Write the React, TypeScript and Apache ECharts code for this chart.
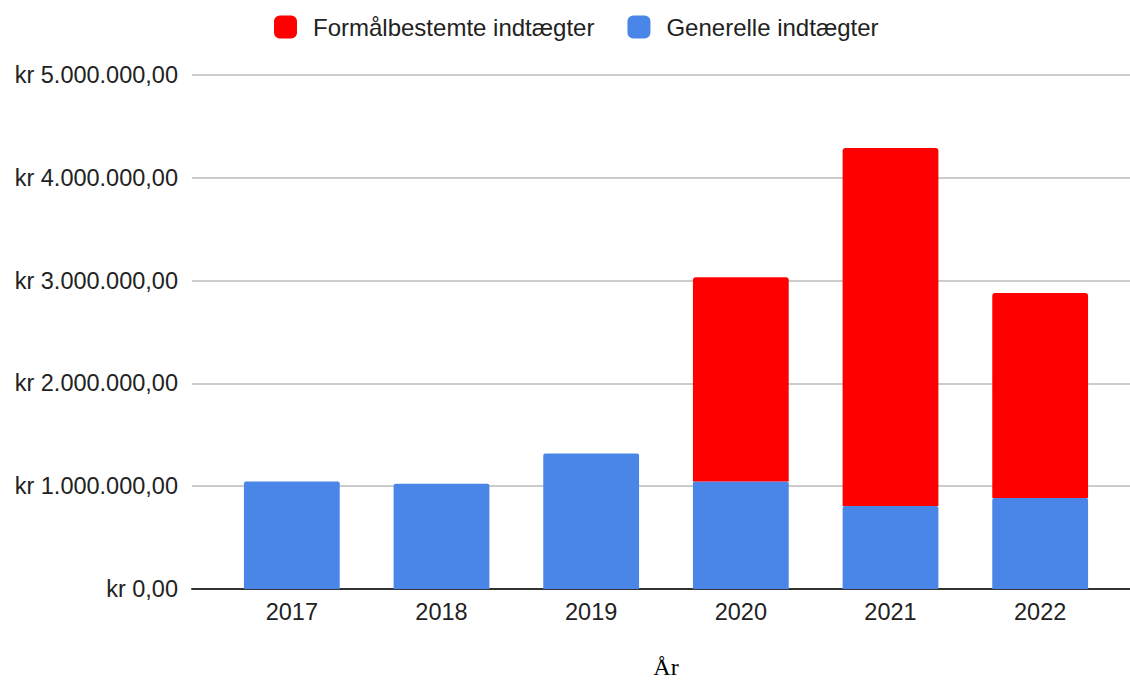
import React, { useEffect, useRef } from "react";
import * as echarts from "echarts";

const years = ["2017", "2018", "2019", "2020", "2021", "2022"];
const generelle = [1045000, 1025000, 1318000, 1045000, 807000, 885000];
const formaal = [0, 0, 0, 1988000, 3483000, 1995000];
const seriesNames = ["Formålbestemte indtægter", "Generelle indtægter"];
const yMax = 5000000;
const yInterval = 1000000;

function fmtKr(v: number): string {
  const s = Math.round(v).toString().replace(/\B(?=(\d{3})+(?!\d))/g, ".");
  return "kr " + s + ",00";
}

export default function App() {
  const ref = useRef<HTMLDivElement>(null);
  useEffect(() => {
    document.body.style.margin = "0";
    const chart = echarts.init(ref.current!, null, { renderer: "svg" });
    const font = "Liberation Sans";
    chart.setOption({
      animation: false,
      backgroundColor: "#ffffff",
      textStyle: { fontFamily: font },
      legend: {
        data: seriesNames,
        top: 10,
        left: 269,
        itemWidth: 23,
        itemHeight: 23,
        itemGap: 33,
        icon: "roundRect",
        textStyle: { fontSize: 24, color: "#222", fontFamily: font, padding: [0, 0, 0, 11] },
      },
      grid: [
        { left: 192, right: 0, top: 75, bottom: 93, outerBoundsMode: "none", containLabel: false },
        { left: 217, right: 15, top: 75, bottom: 93, outerBoundsMode: "none", containLabel: false },
      ],
      xAxis: [
        {
          gridIndex: 0,
          type: "category",
          data: [""],
          axisLine: { show: true, lineStyle: { color: "#333", width: 2 } },
          axisTick: { show: false },
          axisLabel: { show: false },
        },
        {
          gridIndex: 1,
          type: "category",
          data: years,
          axisLine: { show: false },
          axisTick: { show: false },
          axisLabel: { fontSize: 23.5, color: "#222", margin: 11, fontFamily: font },
          name: "År",
          nameLocation: "middle",
          nameGap: 66,
          nameTextStyle: { fontFamily: "Liberation Serif", fontSize: 24, color: "#000" },
        },
      ],
      yAxis: [
        {
          gridIndex: 0,
          type: "value",
          min: 0,
          max: yMax,
          interval: yInterval,
          axisLine: { show: false },
          axisTick: { show: false },
          axisLabel: { fontSize: 23.5, color: "#222", margin: 14, fontFamily: font, formatter: fmtKr },
          splitLine: { lineStyle: { color: "#cccccc", width: 2 } },
        },
        {
          gridIndex: 1,
          type: "value",
          min: 0,
          max: yMax,
          interval: yInterval,
          show: false,
          splitLine: { show: false },
        },
      ],
      series: [
        {
          name: seriesNames[1],
          type: "bar",
          xAxisIndex: 1,
          yAxisIndex: 1,
          stack: "total",
          data: generelle,
          barCategoryGap: "36%",
          itemStyle: { color: "#4a86e8", borderRadius: [2, 2, 0, 0] },
        },
        {
          name: seriesNames[0],
          type: "bar",
          xAxisIndex: 1,
          yAxisIndex: 1,
          stack: "total",
          data: formaal,
          barCategoryGap: "36%",
          itemStyle: { color: "#ff0000", borderRadius: [3, 3, 0, 0] },
        },
      ],
    });
    return () => chart.dispose();
  }, []);
  return <div ref={ref} style={{ width: 1130, height: 682 }} />;
}
